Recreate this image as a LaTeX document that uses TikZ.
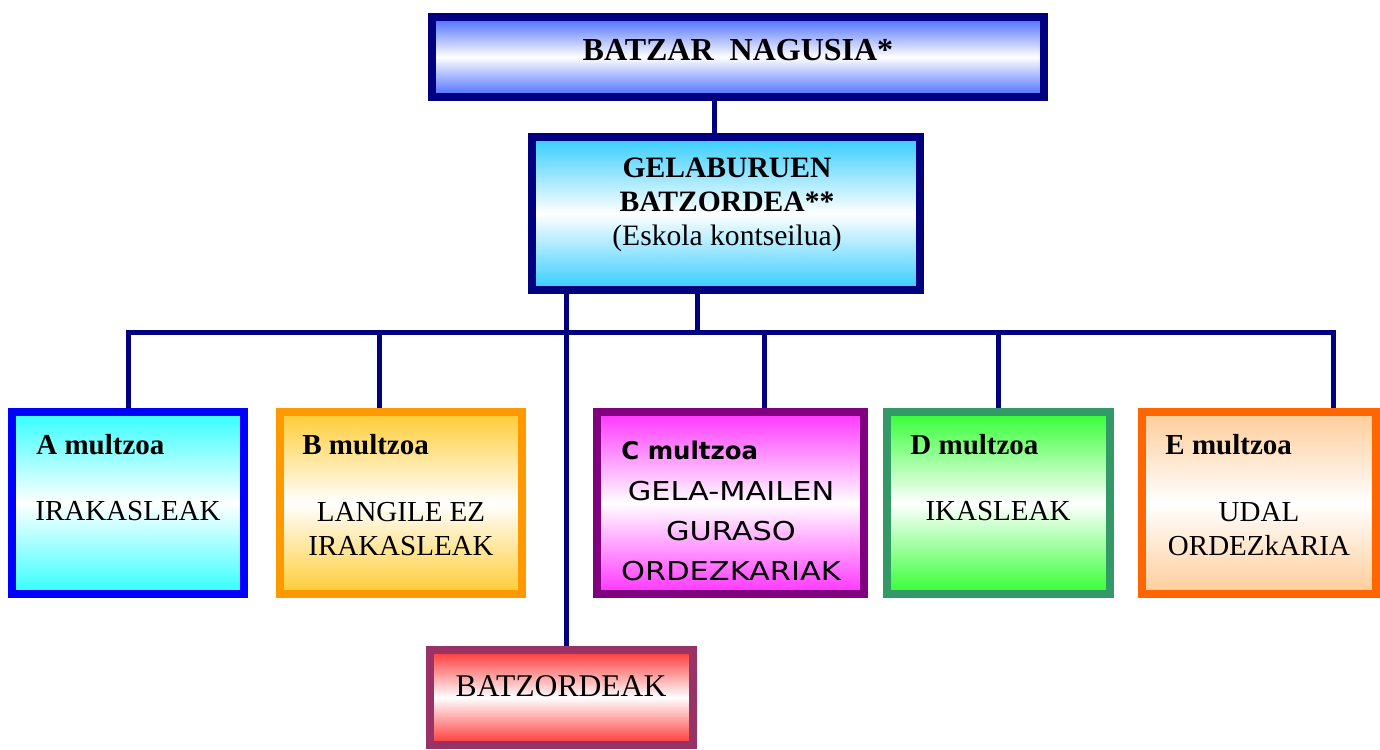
\documentclass[tikz,border=0pt]{standalone}
\usepackage{fontspec}
\setmainfont{Liberation Serif}
\newfontfamily\comicfont[FakeStretch=1.17]{DejaVu Sans}
\newfontfamily\comichead{DejaVu Sans}
\usetikzlibrary{backgrounds}
\definecolor{navy}{RGB}{0,0,128}
\definecolor{topblue}{RGB}{70,105,255}
\definecolor{gelblue}{RGB}{51,204,255}
\definecolor{acyan}{RGB}{51,255,255}
\definecolor{bline}{RGB}{255,153,0}
\definecolor{bfill}{RGB}{255,204,51}
\definecolor{cline}{RGB}{128,0,128}
\definecolor{cfill}{RGB}{255,51,255}
\definecolor{dline}{RGB}{51,153,102}
\definecolor{dfill}{RGB}{51,255,51}
\definecolor{eline}{RGB}{255,102,0}
\definecolor{efill}{RGB}{255,204,153}
\definecolor{rline}{RGB}{153,51,102}
\definecolor{rfill}{RGB}{255,51,51}
\begin{document}
\begin{tikzpicture}[x=0.5pt,y=-0.5pt,line join=miter,
	box/.style={draw=#1,line width=4pt,inner sep=0pt},
	shade/.style={top color=#1,bottom color=#1,middle color=white},
	link/.style={navy,line width=2.5pt},
	head/.style={font=\fontsize{14.5}{17}\selectfont\bfseries,anchor=west,inner sep=0pt},
	body/.style={font=\fontsize{14.5}{17}\selectfont,align=center,anchor=north,inner sep=0pt}]
	\useasboundingbox (0,0) rectangle (1380,749);
	% boxes
	\node[box=navy,shade=topblue,minimum width=306pt,minimum height=40pt] (nagusia) at (738,57) {};
	\node[box=navy,shade=gelblue,minimum width=194pt,minimum height=76.5pt] (gela) at (726,213.5) {};
	\node[box=blue,shade=acyan,minimum width=116pt,minimum height=91pt] (a) at (128,503) {};
	\node[box=bline,shade=bfill,minimum width=121pt,minimum height=91pt] (b) at (401,503) {};
	\node[box=cline,shade=cfill,minimum width=133.5pt,minimum height=91pt] (c) at (730.5,503) {};
	\node[box=dline,shade=dfill,minimum width=111.5pt,minimum height=91pt] (d) at (998.5,503) {};
	\node[box=eline,shade=efill,minimum width=117pt,minimum height=91pt] (e) at (1259,503) {};
	\node[box=rline,shade=rfill,minimum width=131.5pt,minimum height=47.5pt] (batz) at (561.5,697.5) {};
	% texts
	\node[font=\fontsize{16}{19}\selectfont\bfseries] (nagusiatxt) at (738,50) {BATZAR~~NAGUSIA*};
	\node[body,font=\fontsize{14.8}{16.75}\selectfont] (gelatxt) at (727,158) {\textbf{GELABURUEN}\\\textbf{BATZORDEA**}\\(Eskola kontseilua)};
	\node[head] (ahead) at (36,445) {A multzoa};
	\node[body] (atxt) at (128,501) {IRAKASLEAK};
	\node[head] (bhead) at (302,445) {B multzoa};
	\node[body] (btxt) at (401,502) {LANGILE EZ\\IRAKASLEAK};
	\node[head,font=\comichead\fontsize{12.2}{14}\selectfont\bfseries] (chead) at (621,450) {C multzoa};
	\node[body,font=\comicfont\fontsize{13}{20}\selectfont] (ctxt) at (731,481) {GELA-MAILEN\\GURASO\\ORDEZKARIAK};
	\node[head] (dhead) at (910,445) {D multzoa};
	\node[body] (dtxt) at (998,501) {IKASLEAK};
	\node[head] (ehead) at (1165,445) {E multzoa};
	\node[body] (etxt) at (1259,502) {UDAL\\ORDEZkARIA};
	\node[font=\fontsize{15.8}{18}\selectfont] (batztxt) at (561,686) {BATZORDEAK};
	% connectors
	\coordinate (bus) at (697,332);
	\coordinate (busa) at (128,332);
	\coordinate (busb) at (379,332);
	\coordinate (busc) at (764,332);
	\coordinate (busd) at (998,332);
	\coordinate (buse) at (1333,332);
	\begin{pgfonlayer}{background}
		\draw[link] (nagusia.south -| 714,0) -- (gela.north -| 714,0);
		\draw[link] (gela.south -| bus) -- (bus);
		\draw[link] (gela.south -| 566,0) -- (batz.north -| 566,0);
		\draw[link] (busa |- a.north) -- (busa) -- (buse) -- (buse |- e.north);
		\draw[link] (busb) -- (busb |- b.north);
		\draw[link] (busc) -- (busc |- c.north);
		\draw[link] (busd) -- (busd |- d.north);
	\end{pgfonlayer}
\end{tikzpicture}
\end{document}
